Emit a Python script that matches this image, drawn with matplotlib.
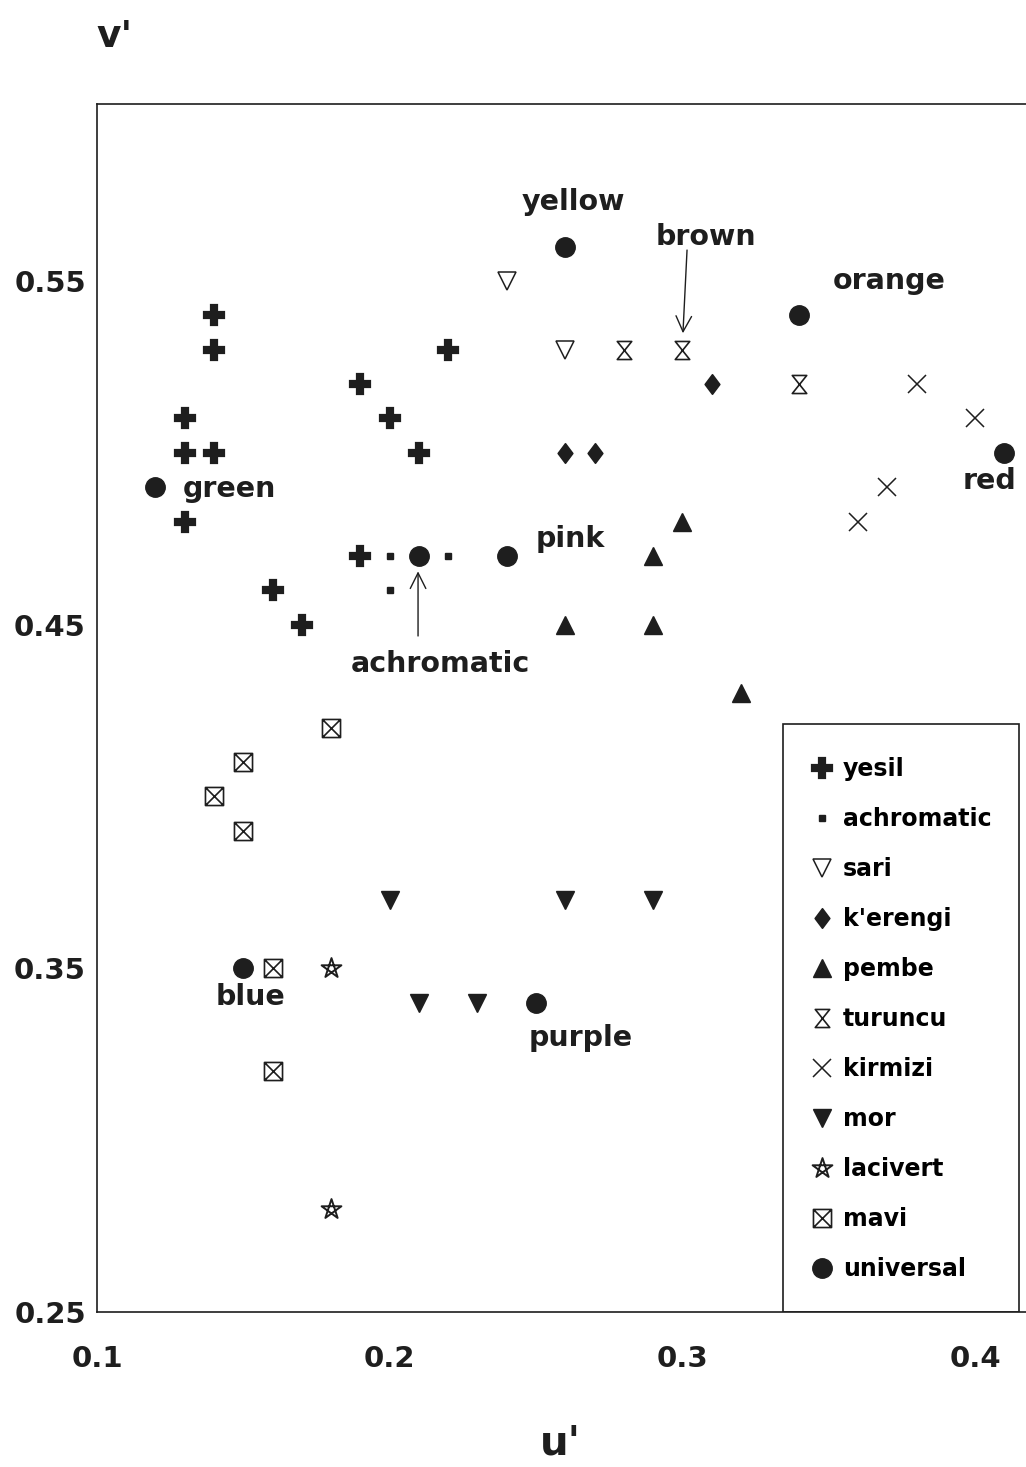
import math
import matplotlib.pyplot as plt
from matplotlib.path import Path
from matplotlib.patches import Rectangle

plt.rcParams['font.family'] = ['DejaVu Sans']
plt.rcParams['font.weight'] = 'bold'

# data
yesil_u = [0.14, 0.14, 0.13, 0.13, 0.14, 0.13, 0.19, 0.20, 0.21, 0.22, 0.19, 0.16, 0.17]
yesil_v = [0.54, 0.53, 0.51, 0.50, 0.50, 0.48, 0.52, 0.51, 0.50, 0.53, 0.47, 0.46, 0.45]

achro_u = [0.20, 0.22, 0.20]
achro_v = [0.47, 0.47, 0.46]

sari_u = [0.24, 0.26]
sari_v = [0.55, 0.53]

kerengi_u = [0.31, 0.26, 0.27]
kerengi_v = [0.52, 0.50, 0.50]

pembe_u = [0.30, 0.29, 0.26, 0.29, 0.32]
pembe_v = [0.48, 0.47, 0.45, 0.45, 0.43]

turuncu_u = [0.28, 0.30, 0.34]
turuncu_v = [0.53, 0.53, 0.52]

kirmizi_u = [0.38, 0.40, 0.37, 0.36]
kirmizi_v = [0.52, 0.51, 0.49, 0.48]

mor_u = [0.20, 0.26, 0.29, 0.21, 0.23]
mor_v = [0.37, 0.37, 0.37, 0.34, 0.34]

lacivert_u = [0.18, 0.18]
lacivert_v = [0.35, 0.28]

mavi_u = [0.18, 0.15, 0.14, 0.15, 0.16, 0.16]
mavi_v = [0.42, 0.41, 0.40, 0.39, 0.35, 0.32]

univ_names = ['green', 'yellow', 'orange', 'red', 'achromatic', 'pink', 'blue', 'purple']
univ_u = [0.12, 0.26, 0.34, 0.41, 0.21, 0.24, 0.15, 0.25]
univ_v = [0.49, 0.56, 0.54, 0.50, 0.47, 0.47, 0.35, 0.34]

ink = '#1e1e1e'

# custom marker shapes
hourglass = Path([(-0.8, 1), (0.8, 1), (-0.8, -1), (0.8, -1), (-0.8, 1)],
                 [Path.MOVETO, Path.LINETO, Path.LINETO, Path.LINETO, Path.CLOSEPOLY])
star_pts = [(math.cos(math.radians(90 + k * 144)), math.sin(math.radians(90 + k * 144))) for k in range(5)]
pentagram = Path(star_pts + [star_pts[0]],
                 [Path.MOVETO] + [Path.LINETO] * 4 + [Path.CLOSEPOLY])
boxx = Path([(-1, -1), (1, -1), (1, 1), (-1, 1), (-1, -1),
             (-1, -1), (1, 1), (-1, 1), (1, -1)],
            [Path.MOVETO, Path.LINETO, Path.LINETO, Path.LINETO, Path.CLOSEPOLY,
             Path.MOVETO, Path.LINETO, Path.MOVETO, Path.LINETO])
diamond = Path([(0, 1), (0.75, 0), (0, -1), (-0.75, 0), (0, 1)],
               [Path.MOVETO, Path.LINETO, Path.LINETO, Path.LINETO, Path.CLOSEPOLY])

fig = plt.figure(figsize=(10.26, 14.67), dpi=100)
ax = fig.add_axes([0.0945, 0.1057, 0.9129, 0.8234])

ax.plot(yesil_u, yesil_v, 'P', color=ink, ms=14, mew=1.6, ls='none', label='yesil')
ax.plot(achro_u, achro_v, 's', color=ink, ms=4, ls='none', label='achromatic')
ax.plot(sari_u, sari_v, 'v', color=ink, mfc='white', ms=13, mew=1.1, ls='none', label='sari')
ax.plot(kerengi_u, kerengi_v, marker=diamond, color=ink, ms=14, mew=1.2, ls='none', label="k'erengi")
ax.plot(pembe_u, pembe_v, '^', color=ink, ms=13, ls='none', label='pembe')
ax.plot(turuncu_u, turuncu_v, marker=hourglass, color=ink, mfc='white', ms=13, mew=1.2, ls='none', label='turuncu')
ax.plot(kirmizi_u, kirmizi_v, 'x', color=ink, ms=13, mew=1.1, ls='none', label='kirmizi')
ax.plot(mor_u, mor_v, 'v', color=ink, ms=13, ls='none', label='mor')
ax.plot(lacivert_u, lacivert_v, marker=pentagram, color=ink, mfc='none', ms=15, mew=1.4, ls='none', label='lacivert')
ax.plot(mavi_u, mavi_v, marker=boxx, color=ink, mfc='none', ms=13, mew=1.2, ls='none', label='mavi')
ax.plot(univ_u, univ_v, 'o', color=ink, ms=14, ls='none', label='universal')

# labels of the universal colours
lab = dict(fontsize=20.5, fontweight='bold', color=ink)
ax.text(0.2626, 0.573, 'yellow', ha='center', va='center', **lab)
ax.text(0.308, 0.5628, 'brown', ha='center', va='center', **lab)
ax.text(0.3706, 0.550, 'orange', ha='center', va='center', **lab)
ax.text(0.405, 0.4918, 'red', ha='center', va='center', **lab)
ax.text(0.1294, 0.4895, 'green', ha='left', va='center', **lab)
ax.text(0.2616, 0.4749, 'pink', ha='center', va='center', **lab)
ax.text(0.2172, 0.4385, 'achromatic', ha='center', va='center', **lab)
ax.text(0.1526, 0.3417, 'blue', ha='center', va='center', **lab)
ax.text(0.2654, 0.3297, 'purple', ha='center', va='center', **lab)

arrow = dict(arrowstyle='->', color=ink, lw=1, mutation_scale=28, shrinkA=0, shrinkB=0)
ax.annotate('', xy=(0.3002, 0.5348), xytext=(0.3016, 0.559), arrowprops=arrow)
ax.annotate('', xy=(0.2097, 0.4655), xytext=(0.2097, 0.4467), arrowprops=arrow)

ax.set_xlim(0.1, 0.42)
ax.set_ylim(0.25, 0.6015)
ax.set_xticks([0.1, 0.2, 0.3, 0.4])
ax.set_xticklabels(['0.1', '0.2', '0.3', '0.4'])
ax.set_yticks([0.25, 0.35, 0.45, 0.55])
ax.set_yticklabels(['0.25', '0.35', '0.45', '0.55'])
ax.tick_params(axis='both', length=0, labelsize=21, colors=ink)
ax.tick_params(axis='x', pad=24)
ax.tick_params(axis='y', pad=8)
for t in ax.get_xticklabels() + ax.get_yticklabels():
    t.set_fontweight('bold')
ax.spines['right'].set_visible(False)
for s in ['left', 'top', 'bottom']:
    ax.spines[s].set_color(ink)
    ax.spines[s].set_linewidth(1.2)

# legend box drawn by hand, entries from the plotted series
ax.add_patch(Rectangle((0.7324, 0), 0.252, 0.4868, transform=ax.transAxes,
                       fill=False, ec=ink, lw=1.2, zorder=3))
ax.legend(loc='upper left', bbox_to_anchor=(0.7618, 0.4590), frameon=False,
          borderaxespad=0, borderpad=0, labelspacing=1.10,
          handlelength=1.0, handletextpad=0.38, numpoints=1,
          prop={'weight': 'bold', 'size': 17})

fig.text(0.112, 0.9748, "v'", fontsize=27, fontweight='bold', ha='center', va='center', color=ink)
fig.text(0.546, 0.016, "u'", fontsize=29, fontweight='bold', ha='center', va='center', color=ink)

fig.savefig('out.png', dpi=100)
